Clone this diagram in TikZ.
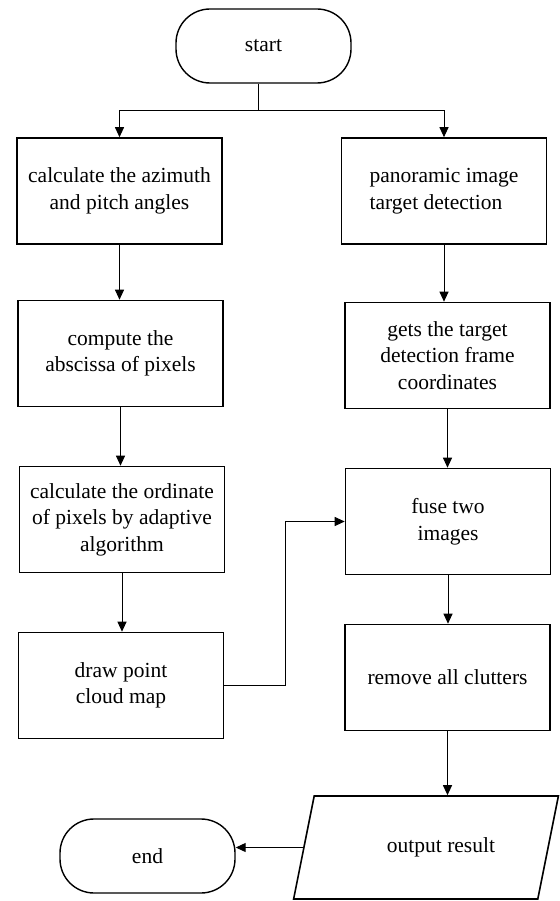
\documentclass[tikz,border=0pt]{standalone}
\usepackage{fontspec}
\setmainfont{Liberation Serif}
\usetikzlibrary{arrows.meta,shapes.geometric}

\begin{document}
\begin{tikzpicture}[x=1pt, y=-1pt, line width=1pt, >={Triangle[length=10pt,width=9pt]},
  txt/.style={font=\fontsize{21.5}{26.5}\selectfont},
  box/.style={txt, draw, line width=1.6pt, minimum width=205pt, minimum height=106pt, align=center},
  term/.style={txt, draw, line width=1.4pt, rounded corners=34pt, minimum width=175pt, minimum height=74pt},
  io/.style={txt, draw, line width=1.6pt, trapezium, trapezium left angle=63, trapezium right angle=117,
    trapezium stretches=true, minimum width=265pt, minimum height=103pt}]
\useasboundingbox (0,0) rectangle (559,901);
\node[term] (start) at (263.5,46) {start};
\node[box] (calc) at (119.5,191) {calculate the azimuth\\and pitch angles};
\node[box] (absc) at (120.5,353.5) {compute the\\abscissa of pixels};
\node[box] (ordi) at (122,519.5) {calculate the ordinate\\of pixels by adaptive\\algorithm};
\node[box] (cloud) at (121,685.5) {draw point\\cloud map};
\node[box, align=left] (detect) at (444,191) {panoramic image\\target detection};
\node[box] (frame) at (447.5,355.5) {gets the target\\detection frame\\coordinates};
\node[box] (fuse) at (448,521.5) {fuse two\\images};
\node[box] (clutter) at (447.5,677.5) {remove all clutters};
\node[io] (result) at (426,847.5) {\hspace*{30pt}output result};
\node[term] (end) at (147.5,856) {end};
\coordinate (split) at (258,111);
\draw (split |- start.south) -- (split);
\draw[->] (split) -| (calc.north);
\draw[->] (split) -| (detect.north);
\foreach \a/\b in {calc/absc, absc/ordi, ordi/cloud, detect/frame, frame/fuse, fuse/clutter, clutter/result}{
\draw[->] (\a.south) -- (\a.south |- \b.north);
}
\draw[->] (cloud.east) -- ++(61,0) |- (fuse.west);
\draw[->] (result.west) -- (result.west -| end.east);
\end{tikzpicture}
\end{document}
